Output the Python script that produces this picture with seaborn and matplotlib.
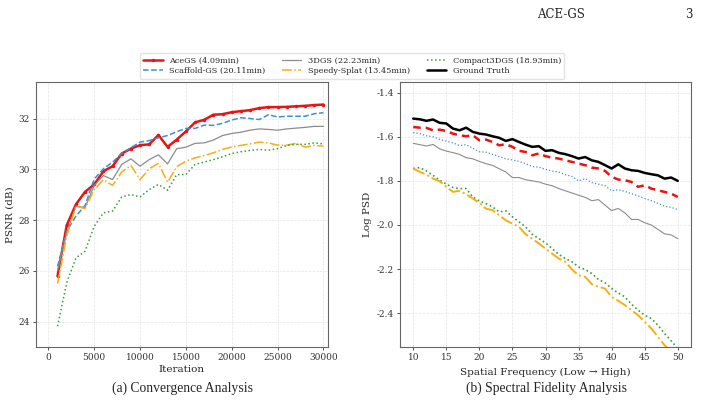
import numpy as np
import pandas as pd
import matplotlib
matplotlib.use("Agg")
import matplotlib.pyplot as plt
import seaborn as sns

# ---------------- data ----------------
iterations = list(range(1000, 31000, 1000))
acegs_psnr = [25.80, 27.80, 28.62, 29.12, 29.41, 29.93, 30.13, 30.63, 30.82, 30.96,
              30.99, 31.36, 30.89, 31.18, 31.50, 31.86, 31.96, 32.16, 32.18, 32.26,
              32.30, 32.34, 32.42, 32.46, 32.46, 32.47, 32.49, 32.51, 32.54, 32.56]
scaffold_psnr = [26.18, 27.57, 28.16, 28.58, 29.62, 30.03, 30.29, 30.63, 30.86, 31.08,
                 31.14, 31.25, 31.34, 31.49, 31.62, 31.62, 31.75, 31.74, 31.82, 31.95,
                 32.04, 32.01, 31.97, 32.16, 32.07, 32.10, 32.10, 32.10, 32.20, 32.24]
gs3d_psnr = [26.00, 27.50, 28.55, 28.50, 29.37, 29.76, 29.60, 30.20, 30.42, 30.13,
             30.39, 30.58, 30.22, 30.82, 30.88, 31.03, 31.05, 31.16, 31.34, 31.42,
             31.47, 31.55, 31.60, 31.58, 31.55, 31.60, 31.63, 31.66, 31.70, 31.70]
speedy_psnr = [25.50, 27.37, 28.55, 28.46, 29.21, 29.60, 29.37, 29.90, 30.16, 29.60,
               30.03, 30.24, 29.50, 30.11, 30.33, 30.46, 30.55, 30.66, 30.79, 30.89,
               30.95, 31.01, 31.08, 31.05, 30.96, 30.96, 31.03, 30.88, 30.95, 30.92]
compact_psnr = [23.82, 25.53, 26.51, 26.78, 27.76, 28.29, 28.36, 28.92, 29.01, 28.92,
                29.21, 29.41, 29.18, 29.80, 29.80, 30.20, 30.29, 30.39, 30.50, 30.63,
                30.70, 30.75, 30.79, 30.76, 30.82, 30.95, 30.99, 30.99, 31.05, 31.01]

freq = list(range(10, 51))
gt_psd = [-1.518, -1.521, -1.528, -1.522, -1.537, -1.540, -1.563, -1.571, -1.559, -1.578,
          -1.586, -1.590, -1.598, -1.605, -1.619, -1.611, -1.624, -1.636, -1.646, -1.643,
          -1.664, -1.661, -1.673, -1.679, -1.688, -1.699, -1.692, -1.707, -1.714, -1.729,
          -1.744, -1.725, -1.744, -1.752, -1.755, -1.764, -1.770, -1.775, -1.790, -1.785,
          -1.800]
acegs_psd = [-1.556, -1.559, -1.560, -1.571, -1.568, -1.574, -1.586, -1.593, -1.598, -1.593,
             -1.616, -1.613, -1.624, -1.639, -1.634, -1.646, -1.664, -1.669, -1.684, -1.676,
             -1.688, -1.695, -1.699, -1.707, -1.714, -1.722, -1.729, -1.740, -1.744, -1.755,
             -1.782, -1.794, -1.797, -1.805, -1.827, -1.820, -1.835, -1.843, -1.850, -1.858,
             -1.873]
scaffold_psd = [-1.581, -1.586, -1.596, -1.600, -1.612, -1.620, -1.628, -1.640, -1.636, -1.652,
                -1.668, -1.670, -1.680, -1.690, -1.700, -1.705, -1.712, -1.722, -1.735, -1.738,
                -1.748, -1.756, -1.760, -1.772, -1.780, -1.800, -1.790, -1.808, -1.815, -1.822,
                -1.845, -1.840, -1.848, -1.858, -1.868, -1.880, -1.890, -1.902, -1.915, -1.920,
                -1.930]
gs3d_psd = [-1.630, -1.636, -1.642, -1.635, -1.655, -1.665, -1.672, -1.680, -1.695, -1.700,
            -1.712, -1.722, -1.730, -1.745, -1.760, -1.785, -1.785, -1.795, -1.800, -1.805,
            -1.815, -1.822, -1.835, -1.845, -1.855, -1.865, -1.875, -1.890, -1.885, -1.910,
            -1.935, -1.925, -1.945, -1.975, -1.975, -1.990, -2.000, -2.020, -2.040, -2.045,
            -2.062]
compact_psd = [-1.744, -1.740, -1.755, -1.775, -1.797, -1.815, -1.830, -1.835, -1.835, -1.873,
               -1.891, -1.903, -1.918, -1.941, -1.936, -1.963, -1.986, -2.009, -2.042, -2.062,
               -2.081, -2.107, -2.133, -2.152, -2.167, -2.190, -2.202, -2.220, -2.247, -2.262,
               -2.288, -2.308, -2.326, -2.359, -2.386, -2.409, -2.424, -2.454, -2.492, -2.525,
               -2.560]
speedy_psd = [-1.744, -1.759, -1.772, -1.790, -1.802, -1.827, -1.850, -1.845, -1.861, -1.880,
              -1.900, -1.926, -1.933, -1.956, -1.979, -1.994, -2.009, -2.042, -2.062, -2.084,
              -2.107, -2.130, -2.152, -2.167, -2.202, -2.228, -2.235, -2.268, -2.280, -2.288,
              -2.326, -2.344, -2.363, -2.386, -2.409, -2.439, -2.469, -2.507, -2.545, -2.575,
              -2.605]

labels = ["AceGS (4.09min)", "Scaffold-GS (20.11min)", "3DGS (22.23min)",
          "Speedy-Splat (13.45min)", "Compact3DGS (18.93min)", "Ground Truth"]

# ---------------- style ----------------
sns.set_style("whitegrid", {"grid.linestyle": "--", "grid.color": "#e6e6e6",
                            "axes.edgecolor": "#666666", "xtick.bottom": True,
                            "ytick.left": True})
plt.rcParams["font.family"] = ["DejaVu Serif"]
plt.rcParams["axes.unicode_minus"] = False
plt.rcParams["xtick.color"] = "#333333"
plt.rcParams["ytick.color"] = "#333333"

C_RED = "#ee1111"
C_BLUE = "#3d8fd6"
C_GRAY = "#8c8c8c"
C_ORANGE = "#f7ae12"
C_GREEN = "#3a9e3a"

fig = plt.figure(figsize=(7.01, 4.04), dpi=100)
ax1 = fig.add_axes([36 / 701, 1 - 347 / 404, 292 / 701, 265 / 404])
ax2 = fig.add_axes([400 / 701, 1 - 347 / 404, 291 / 701, 265 / 404])

# ---- left: convergence ----
sns.lineplot(x=iterations, y=acegs_psnr, ax=ax1, color=C_RED, lw=1.8, marker="o",
             markersize=2.5, markeredgewidth=0, label=labels[0])
sns.lineplot(x=iterations, y=scaffold_psnr, ax=ax1, color=C_BLUE, lw=1.1,
             linestyle="--", label=labels[1])
sns.lineplot(x=iterations, y=gs3d_psnr, ax=ax1, color=C_GRAY, lw=0.9, label=labels[2])
sns.lineplot(x=iterations, y=speedy_psnr, ax=ax1, color=C_ORANGE, lw=1.1,
             linestyle="-.", label=labels[3])
sns.lineplot(x=iterations, y=compact_psnr, ax=ax1, color=C_GREEN, lw=1.1,
             linestyle=":", label=labels[4])
ax1.set_xlim(0 - 1350, 30000 + 500)
ax1.set_ylim(23.0, 33.45)
ax1.set_xticks(range(0, 30001, 5000))
ax1.set_yticks([24, 26, 28, 30, 32])
ax1.set_xlabel("Iteration", fontsize=7.5, labelpad=2)
ax1.set_ylabel("PSNR (dB)", fontsize=7.5, labelpad=3)

# ---- right: spectral ----
sns.lineplot(x=freq, y=gt_psd, ax=ax2, color="black", lw=1.8, label=labels[5])
sns.lineplot(x=freq, y=acegs_psd, ax=ax2, color=C_RED, lw=1.8, linestyle=(0, (3, 2)))
sns.lineplot(x=freq, y=scaffold_psd, ax=ax2, color=C_BLUE, lw=0.9, linestyle=":")
sns.lineplot(x=freq, y=gs3d_psd, ax=ax2, color=C_GRAY, lw=0.8)
sns.lineplot(x=freq, y=compact_psd, ax=ax2, color=C_GREEN, lw=1.2, linestyle=":")
sns.lineplot(x=freq, y=speedy_psd, ax=ax2, color=C_ORANGE, lw=1.4, linestyle="-.")
ax2.set_xlim(8, 52)
ax2.set_ylim(-2.553, -1.352)
ax2.set_xticks(range(10, 51, 5))
ax2.set_yticks([-1.4, -1.6, -1.8, -2.0, -2.2, -2.4])
ax2.set_xlabel("Spatial Frequency (Low \u2192 High)", fontsize=7.5, labelpad=4)
ax2.set_ylabel("Log PSD", fontsize=7.5, labelpad=3)

for ax in (ax1, ax2):
    ax.tick_params(labelsize=6.5, length=2.5, width=0.6, pad=2)
    for s in ax.spines.values():
        s.set_linewidth(0.8)
    ax.grid(True, linestyle="--", linewidth=0.5, color="#e4e4e4")

# ---- legend ----
h1, l1 = ax1.get_legend_handles_labels()
h2, l2 = ax2.get_legend_handles_labels()
ax1.get_legend().remove()
ax2.get_legend().remove()
handles = h1 + h2
fig.legend(handles, l1 + l2, loc="center", bbox_to_anchor=(352 / 701, 1 - 66 / 404),
           ncol=3, fontsize=5.9, frameon=True, edgecolor="#dddddd", handlelength=2.4,
           columnspacing=2.0, borderpad=0.4, labelspacing=0.3, handletextpad=0.8)

# ---- captions / header ----
fig.text(182 / 701, 1 - 388 / 404, "(a) Convergence Analysis", ha="center",
         va="center", fontsize=9.8, family="Liberation Serif")
fig.text(546 / 701, 1 - 388 / 404, "(b) Spectral Fidelity Analysis", ha="center",
         va="center", fontsize=9.8, family="Liberation Serif")
fig.text(561 / 701, 1 - 14 / 404, "ACE-GS", ha="center", va="center", fontsize=8.5)
fig.text(689 / 701, 1 - 14 / 404, "3", ha="center", va="center", fontsize=8.5)

fig.savefig("out.png", dpi=100, facecolor="white")
